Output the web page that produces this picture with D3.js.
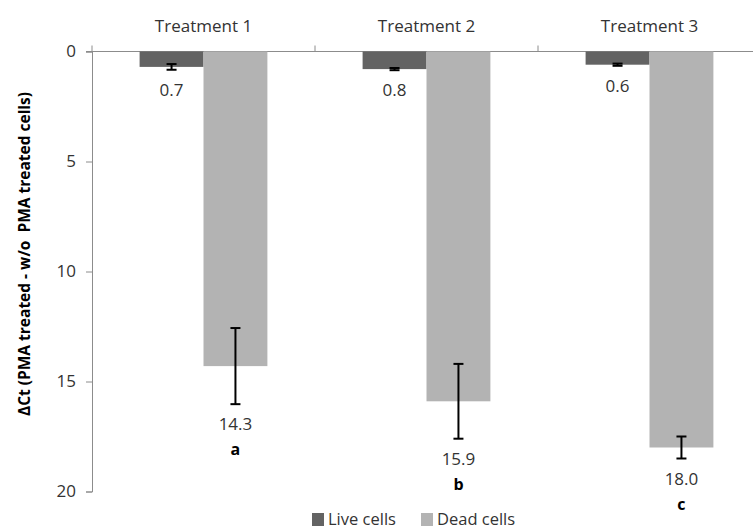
<!DOCTYPE html>
<html><head><meta charset="utf-8">
<script src="https://cdn.jsdelivr.net/npm/d3@7"></script>
<style>body{margin:0;background:#fff;} svg{display:block;}</style>
</head><body>
<svg id="chart" width="753" height="529"></svg>
<script>
const categories = ["Treatment 1", "Treatment 2", "Treatment 3"];
const seriesNames = ["Live cells", "Dead cells"];
const liveValues = [0.7, 0.8, 0.6];
const deadValues = [14.3, 15.9, 18.0];
const liveErrors = [0.13, 0.05, 0.05];
const deadErrors = [1.73, 1.7, 0.5];
const groupLetters = ["a", "b", "c"];
const yTicks = [0, 5, 10, 15, 20];
const colors = ["#636363", "#b3b3b3"];

const svg = d3.select("#chart");
const font = "'Open Sans', sans-serif";
const x0 = 92, yTop = 51.5, yBot = 491.5;
const step = 223;
const x = d3.scaleBand().domain(categories).range([x0, x0 + step * 3]).paddingInner(0).paddingOuter(0);
const xs = d3.scaleBand().domain(seriesNames).range([0, x.bandwidth()]).paddingInner(0).paddingOuter(0.745);
const y = d3.scaleLinear().domain([0, 20]).range([yTop, yBot]);

// axes
const yAxis = d3.axisLeft(y).tickValues(yTicks).tickSize(6).tickPadding(10);
const gy = svg.append("g").attr("transform", `translate(${x0},0)`).call(yAxis);
gy.select(".domain").attr("stroke", "#8c8c8c");
gy.selectAll(".tick line").attr("stroke", "#8c8c8c");
gy.selectAll(".tick text").attr("font-family", font).attr("font-size", 17).attr("fill", "#333");

// top category axis
svg.append("line").attr("x1", x0 - 6).attr("x2", 753).attr("y1", yTop).attr("y2", yTop).attr("stroke", "#8c8c8c");
const dividers = d3.range(categories.length + 1).map(i => x0 + step * i);
svg.selectAll(".div").data(dividers).join("line")
  .attr("x1", d => d).attr("x2", d => d).attr("y1", yTop - 6).attr("y2", yTop).attr("stroke", "#8c8c8c");
svg.selectAll(".cat").data(categories).join("text")
  .attr("x", d => x(d) + x.bandwidth() / 2).attr("y", 32)
  .attr("text-anchor", "middle").attr("font-family", font).attr("font-size", 17).attr("fill", "#333")
  .text(d => d);

const series = [liveValues, deadValues];
const errs = [liveErrors, deadErrors];
series.forEach((vals, si) => {
  const g = svg.append("g");
  categories.forEach((c, i) => {
    const bx = x(c) + xs(seriesNames[si]);
    const bw = xs.bandwidth();
    g.append("rect").attr("x", bx).attr("y", y(0)).attr("width", bw).attr("height", y(vals[i]) - y(0)).attr("fill", colors[si]);
    const cx = bx + bw / 2;
    const lo = y(vals[i] - errs[si][i]), hi = y(vals[i] + errs[si][i]);
    g.append("line").attr("x1", cx).attr("x2", cx).attr("y1", lo).attr("y2", hi).attr("stroke", "#000").attr("stroke-width", 2);
    [lo, hi].forEach(yy => g.append("line").attr("x1", cx - 5).attr("x2", cx + 5).attr("y1", yy).attr("y2", yy).attr("stroke", "#000").attr("stroke-width", 2));
    g.append("text").attr("x", cx).attr("y", hi + 26).attr("text-anchor", "middle")
      .attr("font-family", font).attr("font-size", 17).attr("fill", "#333").text(vals[i].toFixed(1));
    if (si === 1) {
      g.append("text").attr("x", cx).attr("y", hi + 51).attr("text-anchor", "middle")
        .attr("font-family", font).attr("font-size", 16).attr("font-weight", "bold").attr("fill", "#000").text(groupLetters[i]);
    }
  });
});

// y title
svg.append("text").attr("transform", "translate(30,254) rotate(-90)").attr("text-anchor", "middle")
  .attr("font-family", font).attr("font-size", 15.5).attr("font-weight", "bold").attr("fill", "#000")
  .style("white-space", "pre")
  .text("ΔCt (PMA treated - w/o  PMA treated cells)");

// legend
const legX = [312, 421];
seriesNames.forEach((n, i) => {
  svg.append("rect").attr("x", legX[i]).attr("y", 513).attr("width", 12).attr("height", 13).attr("fill", colors[i]);
  svg.append("text").attr("x", legX[i] + 16).attr("y", 525).attr("font-family", font).attr("font-size", 16.5).attr("fill", "#333").text(n);
});
</script>
</body></html>
